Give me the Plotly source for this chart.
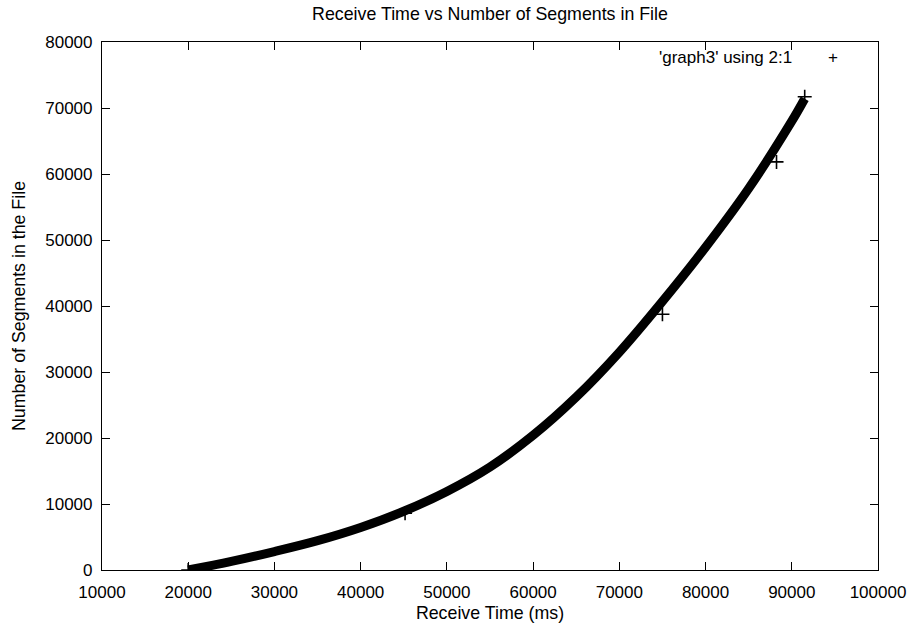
import plotly.graph_objects as go

# Main series (Receive Time in ms, Number of Segments)
recv_time = [20000, 25000, 30000, 35000, 40000, 45000, 50000, 55000, 60000,
             65000, 70000, 75000, 80000, 85000, 90000, 91500]
segments = [0, 1300, 2800, 4450, 6450, 8900, 11900, 15600, 20400,
            26200, 33000, 40700, 48900, 57800, 68000, 71400]

# Isolated points visible beside the band
outlier_time = [20000, 45150, 75000, 88230, 91500]
outlier_segments = [0, 8600, 38760, 61830, 71700]

x_ticks = [10000, 20000, 30000, 40000, 50000, 60000, 70000, 80000, 90000, 100000]
y_ticks = [0, 10000, 20000, 30000, 40000, 50000, 60000, 70000, 80000]

title_text = "Receive Time vs Number of Segments in File"
x_title = "Receive Time (ms)"
y_title = "Number of Segments in the File"
legend_text = "'graph3' using 2:1"

FONT = "Liberation Sans, Arial, Helvetica, sans-serif"
FS = 17
FS_T = 17.8

fig = go.Figure()
fig.add_trace(go.Scatter(
    x=recv_time, y=segments, mode="lines",
    line=dict(color="black", width=9, shape="spline"),
    showlegend=False, hoverinfo="x+y",
))
fig.add_trace(go.Scatter(
    x=outlier_time, y=outlier_segments, mode="markers",
    marker=dict(symbol="cross-thin", size=10, line=dict(color="black", width=1.6)),
    showlegend=False,
))

axis_common = dict(
    showgrid=False, zeroline=False, showline=True, linecolor="black",
    linewidth=1.2, mirror="allticks", ticks="inside", ticklen=8,
    tickcolor="black", tickwidth=1, automargin=False,
    tickfont=dict(family=FONT, size=FS, color="black"),
)

fig.update_layout(
    width=912, height=631,
    margin=dict(l=102, r=34, t=42, b=61, autoexpand=False),
    paper_bgcolor="white", plot_bgcolor="white",
    font=dict(family=FONT, size=FS, color="black"),
    title=dict(text=title_text, x=0.5, xref="paper", xanchor="center",
               y=1 - 14 / 631, yref="container", yanchor="middle",
               font=dict(family=FONT, size=FS_T, color="black")),
    xaxis=dict(range=[10000, 100000], tickvals=x_ticks,
               ticktext=[str(v) for v in x_ticks], ticklabelstandoff=6,
               title=dict(text=x_title, standoff=6,
                          font=dict(family=FONT, size=FS_T, color="black")),
               **axis_common),
    yaxis=dict(range=[0, 80000], tickvals=y_ticks,
               ticktext=[str(v) for v in y_ticks], ticklabelstandoff=5,
               title=dict(text=y_title, standoff=14,
                          font=dict(family=FONT, size=FS_T, color="black")),
               **axis_common),
    annotations=[
        dict(text=legend_text, xref="paper", yref="paper",
             x=(794 - 102) / 776, y=(570 - 58) / 528, xanchor="right",
             yanchor="middle", showarrow=False,
             font=dict(family=FONT, size=FS, color="black")),
        dict(text="+", xref="paper", yref="paper",
             x=(833 - 102) / 776, y=(570 - 58) / 528, xanchor="center",
             yanchor="middle", showarrow=False,
             font=dict(family=FONT, size=FS, color="black")),
    ],
)

fig.write_html(
    "out.html",
    config={"displayModeBar": False},
    post_script=(
        "document.documentElement.style.margin='0';"
        "document.documentElement.style.overflow='hidden';"
        "document.body.style.margin='0';"
        "document.body.style.overflow='hidden';"
    ),
)
